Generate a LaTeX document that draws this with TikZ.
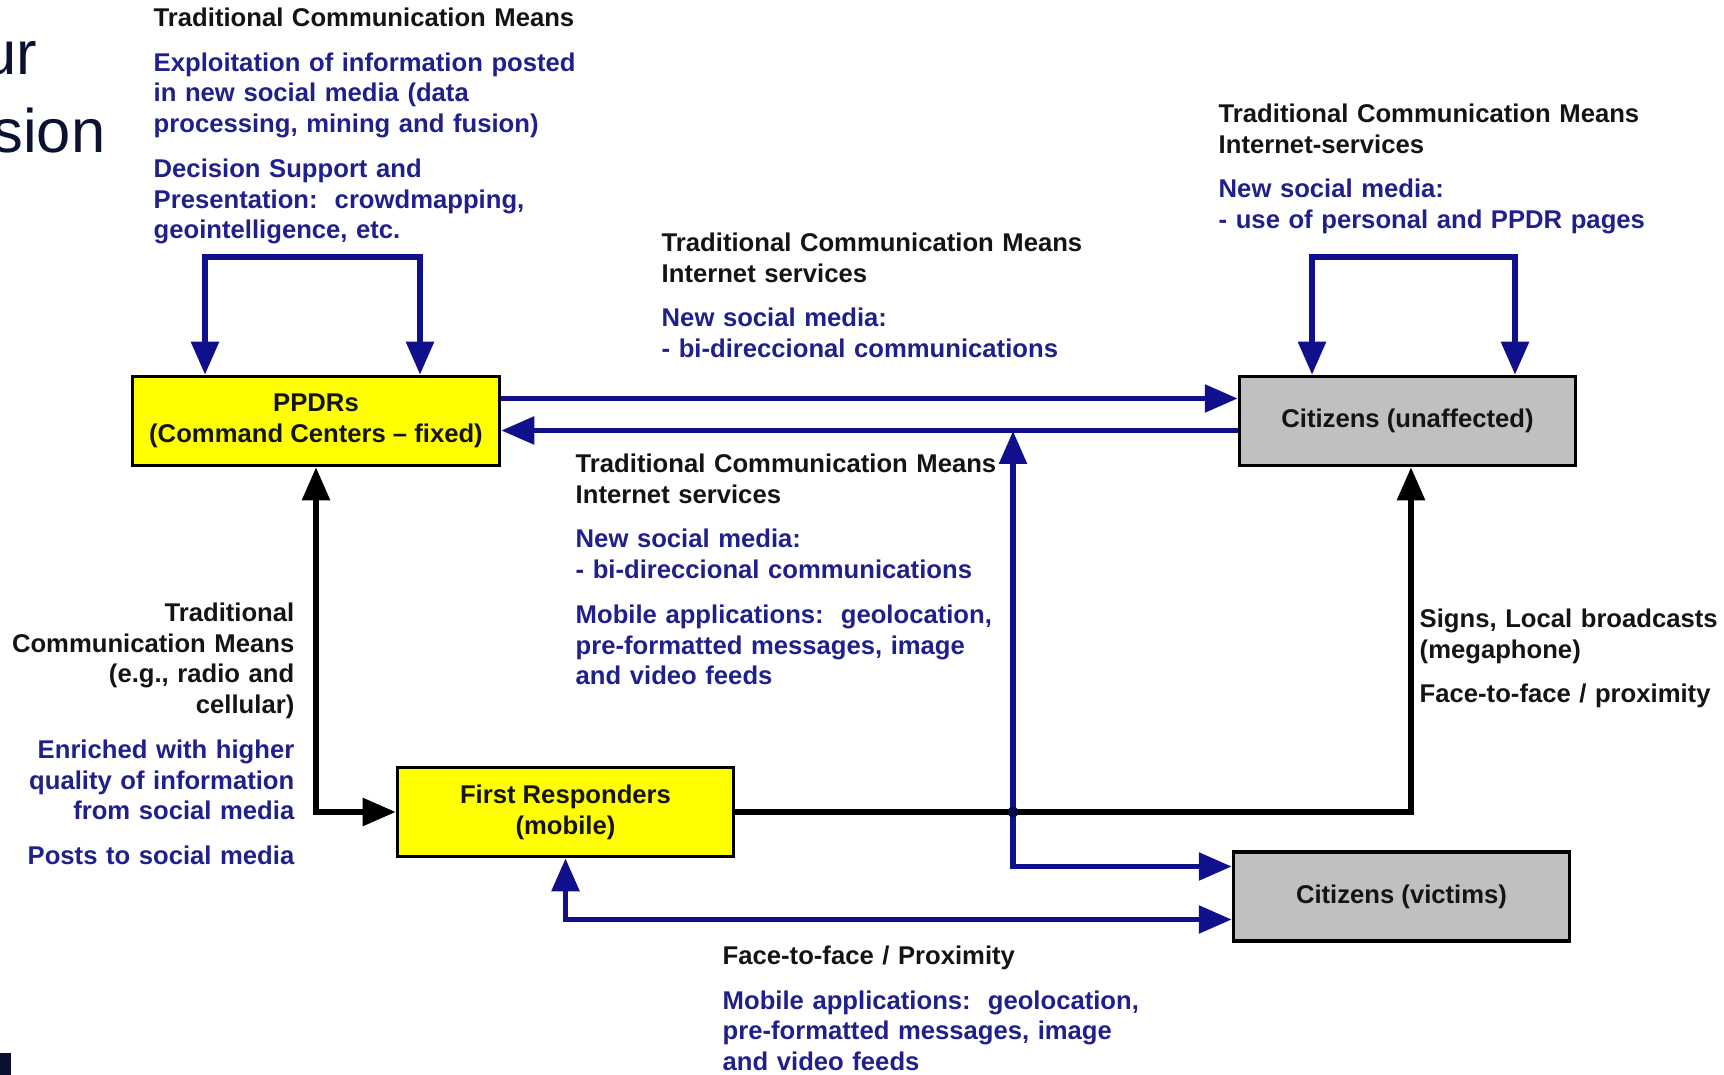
\documentclass[tikz,border=0pt]{standalone}
\usepackage{fontspec}
\setmainfont{Liberation Sans}
\usepackage{xcolor}
\usepackage{tikz}
\usetikzlibrary{arrows.meta,positioning,calc}

\definecolor{ppdryellow}{RGB}{255,255,0}
\definecolor{citgray}{RGB}{192,192,192}
\definecolor{flowblue}{RGB}{16,16,140}
\definecolor{txtblue}{RGB}{32,32,140}
\definecolor{txtblack}{RGB}{20,20,20}
\definecolor{slidenavy}{RGB}{10,18,48}
\newcommand{\diagfont}{\bfseries\fontsize{7.3pt}{8.75pt}\selectfont}
\newcommand{\slidefont}{\fontsize{17.5pt}{21pt}\selectfont}

\begin{document}
\begin{tikzpicture}[>={Triangle[length=3.3mm,width=2.7mm]},
  box/.style={draw, line width=1pt, rectangle, minimum width=3.36cm, minimum height=0.89cm, font=\diagfont, align=center, text=txtblack},
  note/.style={inner sep=0pt, font=\diagfont, text=txtblack, text width=5cm, align=left},
  flow/.style={draw=flowblue, line width=1.6pt},
  link/.style={draw=black, line width=1.6pt}]

  \useasboundingbox (0,0) rectangle (17.24,-10.75);
  \clip (0,0) rectangle (17.24,-10.75);

  % leftovers of the slide
  \node[anchor=base east, inner sep=0pt, font=\slidefont, text=slidenavy] (slideA) at (0.38,-0.75) {ur};
  \node[anchor=base east, inner sep=0pt, font=\slidefont, text=slidenavy] (slideB) at (1.06,-1.53) {sion};
  \fill[slidenavy] (0,-10.53) rectangle (0.11,-10.75);

  % actors
  \node[box, fill=ppdryellow, minimum width=3.67cm] (ppdr) at (3.16,-4.21) {PPDRs\\(Command Centers – fixed)};
  \node[box, fill=citgray] (citu) at ($(ppdr)+(10.915,0)$) {Citizens (unaffected)};
  \node[box, fill=ppdryellow] (fr) at ($(ppdr)+(2.495,-3.91)$) {First Responders\\(mobile)};
  \node[box, fill=citgray] (citv) at ($(citu)+(-0.06,-4.755)$) {Citizens (victims)};

  % black links
  \draw[link, <->] (ppdr.south) |- (fr.west);
  \draw[link, ->] (fr.east) -| ([xshift=0.035cm]citu.south);

  % blue links
  \draw[flow, <->] ([xshift=-1.11cm]ppdr.north) -- ++(0,1.18) -| ([xshift=1.04cm]ppdr.north);
  \draw[flow, <->] ([xshift=-0.955cm]citu.north) -- ++(0,1.18) -| ([xshift=1.075cm]citu.north);
  \draw[flow, ->] ([yshift=0.225cm]ppdr.east) -- ([yshift=0.225cm]ppdr.east -| citu.west);
  \draw[flow, ->] ([yshift=-0.095cm]citu.west) -- ([yshift=-0.095cm]citu.west -| ppdr.east);
  \coordinate (tap) at (10.13,-4.31);
  \draw[flow, <->] (tap) |- ([yshift=0.30cm]citv.west);
  \draw[flow, <->] (fr.south) |- ([yshift=-0.23cm]citv.west);
  \fill[flowblue!50!black] (tap |- fr.east) circle (0.055);

  % notes
  \node[note, anchor=north west] (ppdrnote) at (1.53,-0.07) {Traditional Communication Means\\[4pt]
    \color{txtblue}Exploitation of information posted\\ in new social media (data\\ processing, mining and fusion)\\[4pt]
    Decision Support and\\ Presentation:\ \ crowdmapping,\\ geointelligence, etc.};
  \node[note, anchor=north west] (topnote) at (6.61,-2.32) {Traditional Communication Means\\ Internet services\\[4pt]
    \color{txtblue}New social media:\\ - bi-direccional communications};
  \node[note, anchor=north west] (citunote) at (12.18,-1.03) {Traditional Communication Means\\ Internet-services\\[4pt]
    \color{txtblue}New social media:\\ - use of personal and PPDR pages};
  \node[note, anchor=north west] (midnote) at (5.75,-4.53) {Traditional Communication Means\\ Internet services\\[4pt]
    \color{txtblue}New social media:\\ - bi-direccional communications\\[4pt]
    Mobile applications:\ \ geolocation,\\ pre-formatted messages, image\\ and video feeds};
  \node[note, anchor=north east, text width=3.2cm, align=right] (frnote) at (2.95,-6.02) {Traditional\\ Communication Means\\ (e.g., radio and\\ cellular)\\[4pt]
    \color{txtblue}Enriched with higher\\ quality of information\\ from social media\\[4pt]
    Posts to social media};
  \node[note, anchor=north west] (signnote) at (14.19,-6.08) {Signs, Local broadcasts\\ (megaphone)\\[4pt]
    Face-to-face / proximity};
  \node[note, anchor=north west] (botnote) at (7.22,-9.45) {Face-to-face / Proximity\\[4pt]
    \color{txtblue}Mobile applications:\ \ geolocation,\\ pre-formatted messages, image\\ and video feeds};
\end{tikzpicture}
\end{document}
